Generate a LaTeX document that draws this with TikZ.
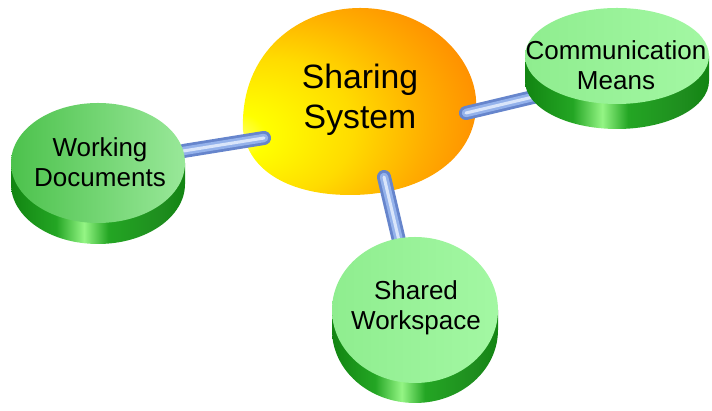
\documentclass[tikz,border=0pt]{standalone}
\usepackage{fontspec}
\setmainfont{Liberation Sans}
\usetikzlibrary{shapes.geometric}

\pgfdeclarelayer{back}
\pgfdeclarelayer{mid}
\pgfsetlayers{back,mid,main}

\definecolor{discdark}{rgb}{0.07,0.52,0.07}
\definecolor{discside}{rgb}{0.14,0.65,0.14}
\definecolor{discglow}{rgb}{0.58,0.96,0.52}
\definecolor{wdleft}{rgb}{0.30,0.76,0.30}
\definecolor{wdright}{rgb}{0.60,0.91,0.60}
\definecolor{topleft}{rgb}{0.56,0.93,0.56}
\definecolor{topright}{rgb}{0.64,0.97,0.64}
\definecolor{rodedge}{rgb}{0.40,0.52,0.80}
\definecolor{rodmid}{rgb}{0.58,0.70,0.92}
\definecolor{rodhi}{rgb}{0.85,0.90,0.98}
\definecolor{domeyel}{rgb}{1.0,0.86,0.0}
\definecolor{domeamb}{rgb}{1.0,0.68,0.0}
\definecolor{domeorg}{rgb}{1.0,0.55,0.0}
\definecolor{domered}{rgb}{0.90,0.36,0.0}

\pgfdeclarehorizontalshading{sideshade}{100bp}{color(0bp)=(discdark); color(25bp)=(discdark); color(38bp)=(discside); color(46bp)=(discglow); color(53bp)=(discside); color(68bp)=(discside!85!black); color(75bp)=(discdark); color(100bp)=(discdark)}
\pgfdeclareradialshading{domeshade}{\pgfpoint{-28bp}{-10bp}}{color(0bp)=(yellow!45!white); color(6bp)=(yellow); color(19bp)=(domeyel); color(30bp)=(domeamb); color(39bp)=(domeorg); color(47bp)=(domered!70!domeorg); color(55bp)=(domered); color(70bp)=(domered)}

\begin{document}
\begin{tikzpicture}[x=0.025cm, y=0.025cm,
  disctop/.style={ellipse, inner sep=0pt},
  disctext/.style={align=center, font=\fontsize{18.5}{21.5}\selectfont},
  rod/.style={line width=10pt, draw=rodedge, line cap=round,
    postaction={draw=rodmid, line width=6pt},
    postaction={draw=rodhi, line width=2.2pt}}]
  \useasboundingbox (0,0) rectangle (712,411);

  % the dome in the middle
  \begin{pgfonlayer}{back}
    \shade[shading=domeshade] (243,281) .. controls (240,360) and (300,403) .. (360,403)
      .. controls (430,403) and (480,350) .. (476,301)
      .. controls (472,250) and (420,216) .. (350,216)
      .. controls (290,216) and (248,240) .. (243,281) -- cycle;
  \end{pgfonlayer}
  \node [align=center, font=\fontsize{24}{28.5}\selectfont] (sys) at (360,311) {Sharing\\System};
  \coordinate (sys-w) at (264,273);
  \coordinate (sys-e) at (466,298);
  \coordinate (sys-s) at (384,234);

  % draw discs
  \foreach \n/\cx/\cy/\rx/\ry/\dz/\tcl/\tcr in {wd/98/248/87/60/21/wdleft/wdright, cm/617/355/92/48/25/topleft/topright, sw/415/101/83/73/20/topleft/topright}
  {
    \shade [shading=sideshade] (\cx-\rx,\cy) -- (\cx-\rx,\cy-\dz)
      arc [start angle=180, end angle=360, x radius=\rx, y radius=\ry] -- (\cx+\rx,\cy) -- cycle;
    \node [disctop, left color=\tcl, right color=\tcr, minimum width=2*\rx*0.025cm, minimum height=2*\ry*0.025cm] (\n) at (\cx,\cy) {};
  }

  \foreach \n/\tx/\ty/\txt in {wd/100/249/{Working\\Documents}, cm/616/346/{Communication\\Means}, sw/416/103/{Shared\\Workspace}}
  \node [disctext] (\n-label) at (\tx,\ty) {\txt};

  % rods
  \begin{pgfonlayer}{mid}
    \draw [rod] (wd.8) -- (sys-w);
    \draw [rod] (cm.210) -- (sys-e);
    \draw [rod] (sw.103) -- (sys-s);
  \end{pgfonlayer}

\end{tikzpicture}
\end{document}
